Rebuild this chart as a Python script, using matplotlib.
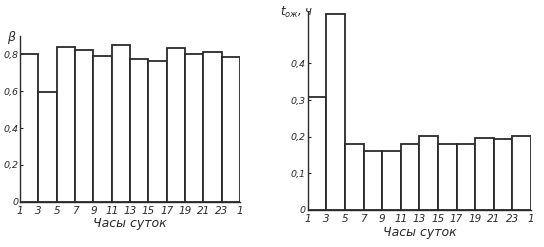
import matplotlib
matplotlib.use("Agg")
import matplotlib.pyplot as plt
import numpy as np

hours = ["1", "3", "5", "7", "9", "11", "13", "15", "17", "19", "21", "23", "1"]
beta = [0.805, 0.594, 0.84, 0.825, 0.793, 0.85, 0.775, 0.766, 0.833, 0.804, 0.816, 0.784]
t_wait = [0.307, 0.536, 0.181, 0.161, 0.161, 0.181, 0.203, 0.181, 0.181, 0.196, 0.195, 0.201]
beta_ticks = [0, 0.2, 0.4, 0.6, 0.8]
beta_ticklabels = ["0", "0,2", "0,4", "0,6", "0,8"]
t_ticks = [0, 0.1, 0.2, 0.3, 0.4]
t_ticklabels = ["0", "0,1", "0,2", "0,3", "0,4"]
xlabel = "Часы суток"

ink = "#2a2a2a"
plt.rcParams['font.family'] = ['DejaVu Sans']
plt.rcParams['font.style'] = 'italic'

fig = plt.figure(figsize=(5.44, 2.47), dpi=100)
ax1 = fig.add_axes([0.037, 0.183, 0.404, 0.671])
ax2 = fig.add_axes([0.566, 0.150, 0.410, 0.801])

def style(ax, vals, ticks, ticklabels, ymax):
    x = np.arange(len(vals)) + 0.5
    ax.bar(x, vals, width=1.0, color="white", edgecolor=ink, linewidth=1.3)
    ax.set_xlim(0, len(vals))
    ax.set_ylim(0, ymax)
    ax.set_xticks(np.arange(len(hours)))
    ax.set_xticklabels(hours, fontsize=7.5, color=ink, style='italic')
    ax.set_yticks(ticks)
    ax.set_yticklabels(ticklabels, fontsize=6.8, color=ink, style='italic')
    ax.tick_params(axis='x', length=0, pad=3)
    ax.tick_params(axis='y', direction='in', length=2, color=ink, pad=1.5)
    for s in ["top", "right"]:
        ax.spines[s].set_visible(False)
    for s in ["left", "bottom"]:
        ax.spines[s].set_color(ink)
        ax.spines[s].set_linewidth(1.0)
    ax.set_xlabel(xlabel, fontsize=9, color=ink, style='italic', labelpad=1)
    ax.patch.set_alpha(0)

style(ax1, beta, beta_ticks, beta_ticklabels, 0.9)
style(ax2, t_wait, t_ticks, t_ticklabels, 0.54)

fig.text(0.012, 0.835, "β", fontsize=9, color=ink, style='italic')
fig.text(0.515, 0.935, "$t_{ож}$, ч", fontsize=8.5, color=ink, style='italic')

fig.savefig("out.png", dpi=100, facecolor="white")
